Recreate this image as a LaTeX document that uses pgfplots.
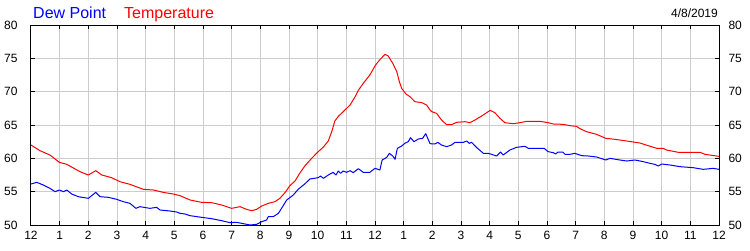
\documentclass[border=0pt]{standalone}
\usepackage{pgfplots}
\pgfplotsset{compat=1.18}
\usepackage{fontspec}
\setmainfont{Liberation Sans}
\definecolor{gridgray}{RGB}{204,204,204}
\definecolor{dewblue}{RGB}{0,0,255}
\definecolor{tempred}{RGB}{255,0,0}
\begin{document}
\begin{tikzpicture}[x=1pt,y=1pt]
\path[use as bounding box] (-31,-25) rectangle (719,225);
\pgfplotsset{
  base/.style={
    at={(0,0)}, anchor=south west, scale only axis,
    width=688pt, height=200pt,
    xmin=0, xmax=24, ymin=50, ymax=80,
    ytick={50,55,...,80},
    xtick={0,...,24},
    tick align=inside,
    major tick length=4pt,
    every tick/.style={black, line width=1pt},
    axis line style={black, line width=1pt},
    /pgf/number format/assume math mode=true,
    tick label style={font=\fontsize{12}{14}\selectfont},
  }
}
\begin{axis}[base,
  grid=major, major grid style={gridgray, line width=1pt},
  xticklabels={12,1,2,3,4,5,6,7,8,9,10,11,12,1,2,3,4,5,6,7,8,9,10,11,12},
  xticklabel style={yshift=-3pt},
  yticklabel style={xshift=-10pt},
]
\addplot[tempred, line width=1pt, line join=round] coordinates {
(0,62.0) (0.31,61.15) (0.66,60.5) (0.99,59.4) (1.25,59.1) (1.71,58.0) (2.0,57.5)
(2.26,58.15) (2.47,57.5) (2.81,57.1) (3.10,56.5) (3.45,56.1) (3.92,55.35) (4.27,55.25)
(4.61,54.9) (4.96,54.65) (5.2,54.4) (5.55,53.75) (5.95,53.4) (6.30,53.35) (6.65,53.0)
(7.00,52.5) (7.29,52.75) (7.52,52.35) (7.70,52.15) (7.87,52.35) (8.05,52.85) (8.28,53.25)
(8.51,53.5) (8.68,54.0) (8.86,54.85) (9.03,55.9) (9.21,56.6) (9.38,57.8) (9.56,58.9)
(9.79,60.0) (10.02,61.0) (10.20,61.7) (10.37,62.6) (10.49,64.0) (10.60,65.6) (10.72,66.3)
(10.89,67.0) (11.01,67.5) (11.13,68.0) (11.30,69.2) (11.42,70.2) (11.59,71.25) (11.82,72.5)
(12.02,74.0) (12.17,74.8) (12.35,75.6) (12.46,75.35) (12.62,74.25) (12.76,73.0) (12.85,71.5)
(12.93,70.5) (13.08,69.65) (13.22,69.25) (13.39,68.5) (13.63,68.35) (13.80,68.0) (13.92,67.25)
(13.98,67.0) (14.15,66.75) (14.32,65.75) (14.50,65.05) (14.67,65.05) (14.85,65.4) (15.14,65.5)
(15.31,65.35) (15.49,65.75) (15.72,66.35) (16.02,67.2) (16.18,66.85) (16.36,66.0) (16.53,65.35)
(16.82,65.2) (17.06,65.35) (17.29,65.55) (17.75,65.55) (18.04,65.35) (18.22,65.15) (18.57,65.1)
(18.80,64.9) (19.03,64.8) (19.15,64.45) (19.38,64.0) (19.73,63.6) (20.05,63.0) (20.37,62.85)
(20.78,62.6) (21.24,62.3) (21.53,61.9) (21.83,61.5) (22.05,61.5) (22.17,61.25) (22.58,60.9)
(23.34,60.9) (23.51,60.6) (24.0,60.3)
};
\addplot[dewblue, line width=1pt, line join=round] coordinates {
(0,56.15) (0.2,56.4) (0.43,56.0) (0.66,55.5) (0.84,55.0) (0.99,55.25) (1.13,55.0) (1.25,55.25)
(1.42,54.65) (1.65,54.25) (2.0,54.0) (2.26,54.9) (2.41,54.25) (2.70,54.15) (2.99,53.85)
(3.22,53.5) (3.45,53.25) (3.66,52.5) (3.80,52.75) (4.15,52.5) (4.38,52.65) (4.50,52.25)
(4.85,52.1) (5.08,51.95) (5.20,51.75) (5.37,51.65) (5.55,51.4) (5.95,51.15) (6.30,50.95)
(6.65,50.65) (6.94,50.35) (7.17,50.4) (7.35,50.25) (7.64,50.0) (7.87,50.1) (8.05,50.5)
(8.22,50.75) (8.28,51.25) (8.45,51.25) (8.63,51.75) (8.74,52.5) (8.92,53.75) (9.15,54.5)
(9.32,55.35) (9.56,56.2) (9.73,56.9) (10.02,57.1) (10.10,57.35) (10.20,57.0) (10.37,57.5)
(10.54,57.9) (10.64,57.5) (10.72,58.1) (10.80,57.75) (10.89,58.1) (11.01,57.9) (11.13,58.15)
(11.24,57.85) (11.42,58.45) (11.59,57.9) (11.82,57.9) (12.00,58.5) (12.17,58.25) (12.25,59.75)
(12.41,60.15) (12.50,60.75) (12.62,60.35) (12.70,59.85) (12.78,61.5) (12.93,61.85) (13.04,62.25)
(13.16,62.5) (13.24,63.1) (13.36,62.5) (13.51,62.9) (13.66,63.0) (13.77,63.7) (13.92,62.2)
(14.09,62.15) (14.19,62.4) (14.32,62.0) (14.50,61.75) (14.67,62.0) (14.79,62.4) (15.08,62.4)
(15.20,62.6) (15.29,62.25) (15.37,62.4) (15.55,61.6) (15.66,61.2) (15.78,60.75) (15.95,60.75)
(16.07,60.6) (16.24,60.35) (16.38,60.95) (16.47,60.5) (16.71,61.25) (16.94,61.65) (17.23,61.8)
(17.35,61.5) (17.90,61.5) (18.04,61.0) (18.22,60.85) (18.30,60.65) (18.39,60.95) (18.55,60.95)
(18.63,60.6) (18.80,60.6) (18.97,60.75) (19.21,60.4) (19.44,60.35) (19.73,60.2) (20.05,59.75)
(20.20,60.0) (20.54,59.75) (20.78,59.6) (21.07,59.75) (21.36,59.5) (21.59,59.25) (21.76,59.1)
(21.88,58.85) (22.00,59.15) (22.29,59.0) (22.64,58.75) (23.10,58.6) (23.45,58.35) (23.80,58.5)
(24.0,58.35)
};
\end{axis}
\begin{axis}[base,
  hide x axis,
  axis y line*=right,
  yticklabel style={xshift=6pt},
]
\end{axis}
\node[anchor=base west, inner sep=0, text=dewblue, font=\fontsize{16}{19}\selectfont] at (2,207) {Dew Point};
\node[anchor=base west, inner sep=0, text=tempred, font=\fontsize{16}{19}\selectfont] at (93,207) {Temperature};
\node[anchor=base east, inner sep=0, font=\fontsize{12}{14}\selectfont] at (687,208) {4/8/2019};
\end{tikzpicture}
\end{document}
